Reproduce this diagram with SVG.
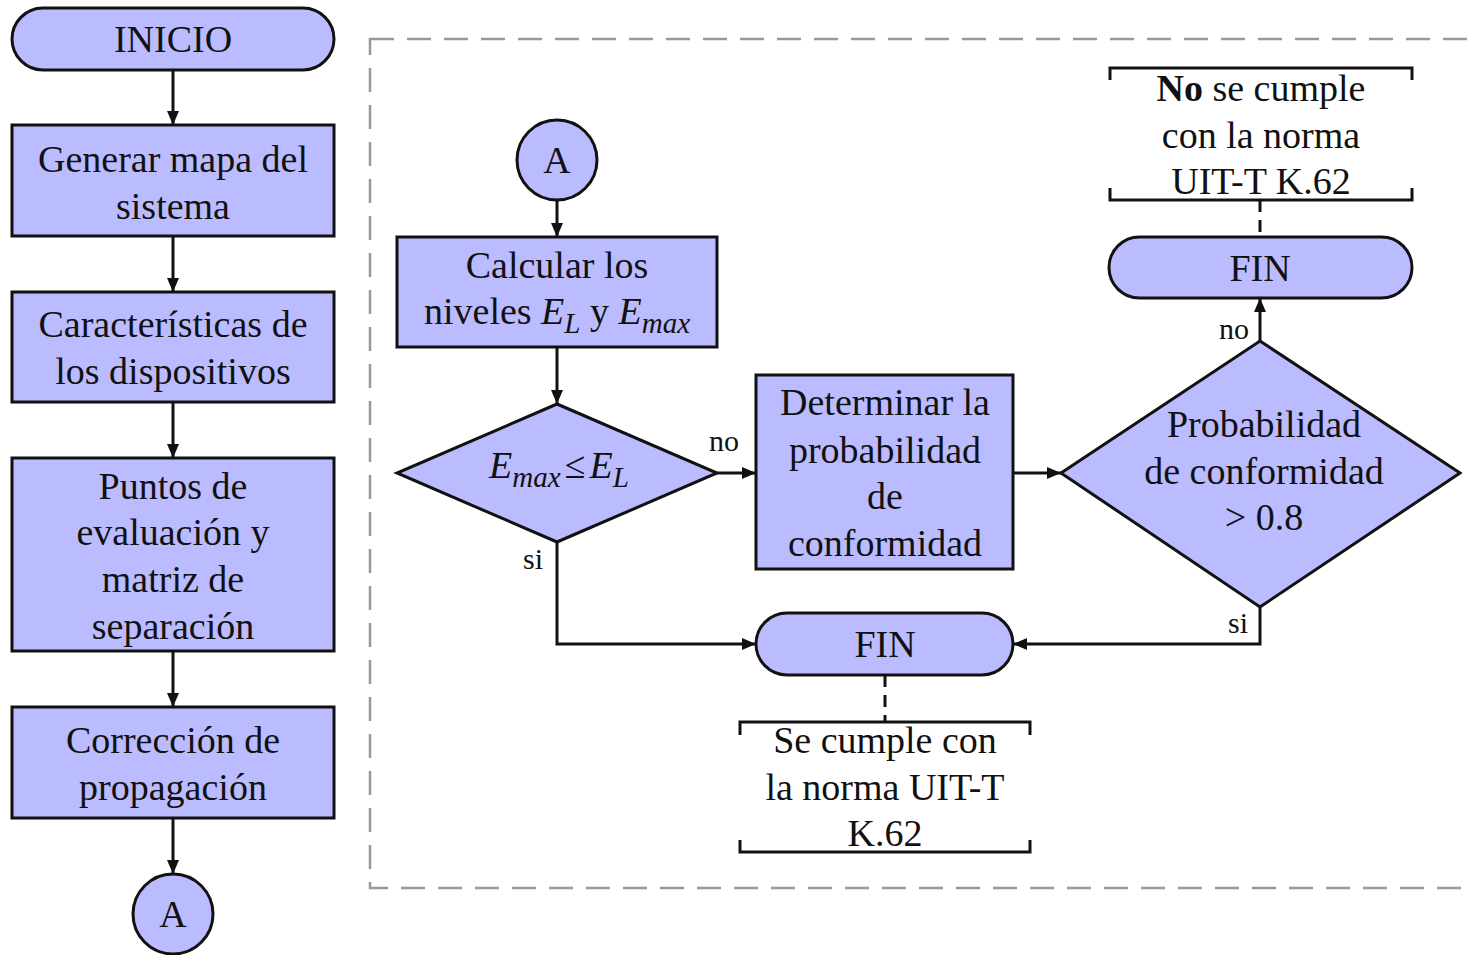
<svg xmlns="http://www.w3.org/2000/svg" width="1474" height="955" viewBox="0 0 1474 955">
<style>
.n{fill:#bbbbff;stroke:#111;stroke-width:3}
.t{font-family:'Liberation Serif','DejaVu Serif',serif;font-size:38px;fill:#111;text-anchor:middle}
.lb{font-family:'Liberation Serif','DejaVu Serif',serif;font-size:30px;fill:#111;text-anchor:middle}
.c{fill:none;stroke:#111;stroke-width:3}
.d{fill:none;stroke:#111;stroke-width:3;stroke-dasharray:12 8}
.br{fill:none;stroke:#111;stroke-width:3}
.sub{font-style:italic;font-size:29px}
.it{font-style:italic}
</style>
<defs>
<marker id="ah" markerWidth="14" markerHeight="12" refX="14" refY="6" orient="auto" markerUnits="userSpaceOnUse">
<path d="M0,0 L14,6 L0,12 Z" fill="#111"/>
</marker>
</defs>
<rect x="370" y="39" width="1120" height="849" fill="none" stroke="#999" stroke-width="2.5" stroke-dasharray="24 13"/>
<g id="connectors">
<path class="c" d="M173,70 V125" marker-end="url(#ah)"/>
<path class="c" d="M173,236 V292" marker-end="url(#ah)"/>
<path class="c" d="M173,402 V458" marker-end="url(#ah)"/>
<path class="c" d="M173,651 V707" marker-end="url(#ah)"/>
<path class="c" d="M173,818 V874" marker-end="url(#ah)"/>
<path class="c" d="M557,200 V237" marker-end="url(#ah)"/>
<path class="c" d="M557,347 V404" marker-end="url(#ah)"/>
<path class="c" d="M717,473 H756" marker-end="url(#ah)"/>
<path class="c" d="M1013,473 H1061" marker-end="url(#ah)"/>
<path class="c" d="M1260,341 V298" marker-end="url(#ah)"/>
<path class="c" d="M557,542 V644 H756" marker-end="url(#ah)"/>
<path class="c" d="M1260,607 V644 H1013" marker-end="url(#ah)"/>
<path class="d" d="M1260,200 V237"/>
<path class="d" d="M885,675 V722"/>
<text class="lb" x="724" y="451">no</text>
<text class="lb" x="533" y="569">si</text>
<text class="lb" x="1234" y="339">no</text>
<text class="lb" x="1238" y="633">si</text>
</g>
<g id="inicio">
<rect class="n" x="12" y="8" width="322" height="62" rx="31"/>
<text class="t" x="173" y="52">INICIO</text>
</g>
<g id="generar">
<rect class="n" x="12" y="125" width="322" height="111"/>
<text class="t" x="173" y="172">Generar mapa del</text>
<text class="t" x="173" y="219">sistema</text>
</g>
<g id="caracteristicas">
<rect class="n" x="12" y="292" width="322" height="110"/>
<text class="t" x="173" y="337">Características de</text>
<text class="t" x="173" y="384">los dispositivos</text>
</g>
<g id="puntos">
<rect class="n" x="12" y="458" width="322" height="193"/>
<text class="t" x="173" y="499">Puntos de</text>
<text class="t" x="173" y="545">evaluación y</text>
<text class="t" x="173" y="592">matriz de</text>
<text class="t" x="173" y="639">separación</text>
</g>
<g id="correccion">
<rect class="n" x="12" y="707" width="322" height="111"/>
<text class="t" x="173" y="753">Corrección de</text>
<text class="t" x="173" y="800">propagación</text>
</g>
<g id="a-out">
<circle class="n" cx="173" cy="914" r="40"/>
<text class="t" x="173" y="927">A</text>
</g>
<g id="a-in">
<circle class="n" cx="557" cy="160" r="40"/>
<text class="t" x="557" y="173">A</text>
</g>
<g id="calcular">
<rect class="n" x="397" y="237" width="320" height="110"/>
<text class="t" x="557" y="278">Calcular los</text>
<text class="t" x="557" y="324">niveles <tspan class="it">E</tspan><tspan class="sub" dy="9">L</tspan><tspan dy="-9"> y </tspan><tspan class="it">E</tspan><tspan class="sub" dy="9">max</tspan></text>
</g>
<g id="decision1">
<polygon class="n" points="557,404 717,473 557,542 397,473"/>
<text class="t" x="559" y="478"><tspan class="it">E</tspan><tspan class="sub" dy="9">max</tspan><tspan dy="-9" dx="4">≤</tspan><tspan class="it" dx="4">E</tspan><tspan class="sub" dy="9">L</tspan></text>
</g>
<g id="determinar">
<rect class="n" x="756" y="375" width="257" height="194"/>
<text class="t" x="885" y="415">Determinar la</text>
<text class="t" x="885" y="463">probabilidad</text>
<text class="t" x="885" y="509">de</text>
<text class="t" x="885" y="556">conformidad</text>
</g>
<g id="decision2">
<polygon class="n" points="1260,341 1460,473 1260,607 1061,473"/>
<text class="t" x="1264" y="437">Probabilidad</text>
<text class="t" x="1264" y="484">de conformidad</text>
<text class="t" x="1264" y="530">&gt; 0.8</text>
</g>
<g id="fin-no">
<rect class="n" x="1109" y="237" width="303" height="61" rx="30.5"/>
<text class="t" x="1260" y="281">FIN</text>
</g>
<g id="nota-no">
<path class="br" d="M1110,80 V68 H1412 V80 M1110,188 V200 H1412 V188"/>
<text class="t" x="1261" y="101"><tspan font-weight="bold">No</tspan> se cumple</text>
<text class="t" x="1261" y="148">con la norma</text>
<text class="t" x="1261" y="194">UIT-T K.62</text>
</g>
<g id="fin-si">
<rect class="n" x="756" y="613" width="257" height="62" rx="31"/>
<text class="t" x="885" y="657">FIN</text>
</g>
<g id="nota-si">
<path class="br" d="M740,735 V722 H1030 V735 M740,840 V852 H1030 V840"/>
<text class="t" x="885" y="753">Se cumple con</text>
<text class="t" x="885" y="800">la norma UIT-T</text>
<text class="t" x="885" y="846">K.62</text>
</g>
</svg>
